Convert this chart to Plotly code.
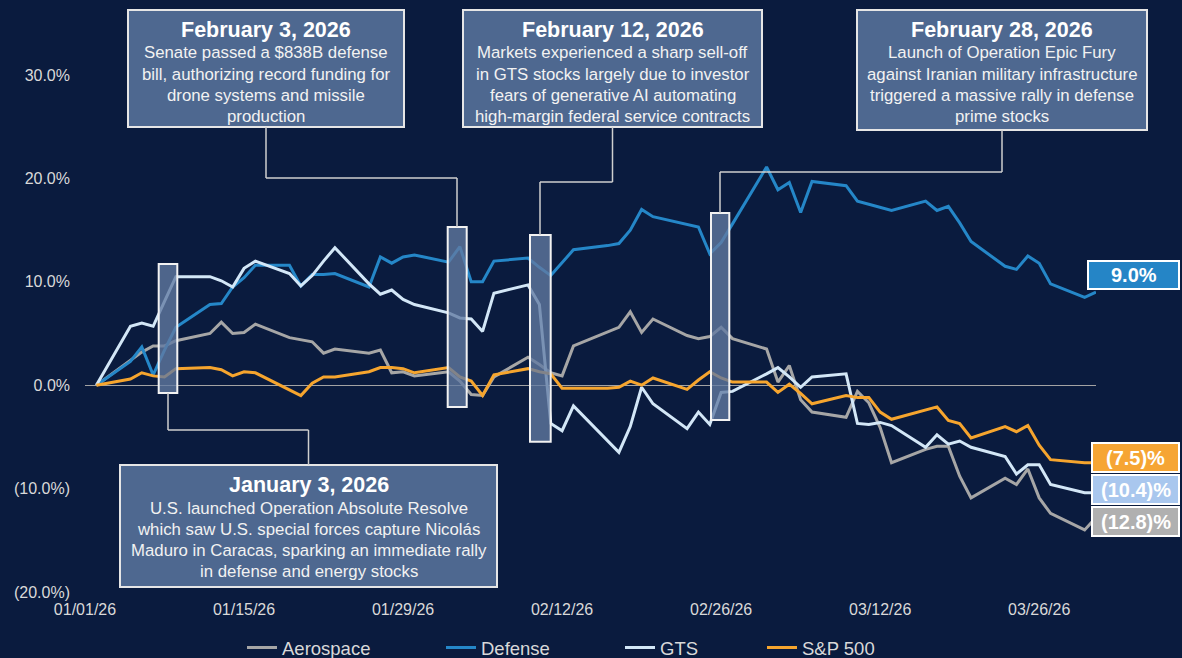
import plotly.graph_objects as go

# ---------------- data ----------------
dates = [
    "2026-01-02", "2026-01-05", "2026-01-06", "2026-01-07", "2026-01-08", "2026-01-09",
    "2026-01-12", "2026-01-13", "2026-01-14", "2026-01-15", "2026-01-16",
    "2026-01-19", "2026-01-20", "2026-01-21", "2026-01-22", "2026-01-23",
    "2026-01-26", "2026-01-27", "2026-01-28", "2026-01-29", "2026-01-30",
    "2026-02-02", "2026-02-03", "2026-02-04", "2026-02-05", "2026-02-06",
    "2026-02-09", "2026-02-10", "2026-02-11", "2026-02-12", "2026-02-13",
    "2026-02-16", "2026-02-17", "2026-02-18", "2026-02-19", "2026-02-20",
    "2026-02-23", "2026-02-24", "2026-02-25", "2026-02-26", "2026-02-27",
    "2026-03-02", "2026-03-03", "2026-03-04", "2026-03-05", "2026-03-06",
    "2026-03-09", "2026-03-10", "2026-03-11", "2026-03-12", "2026-03-13",
    "2026-03-16", "2026-03-17", "2026-03-18", "2026-03-19", "2026-03-20",
    "2026-03-23", "2026-03-24", "2026-03-25", "2026-03-26", "2026-03-27",
    "2026-03-30", "2026-03-31",
]

aerospace = [
    0.0, 2.4, 3.2, 3.8, 3.8, 4.3,
    5.0, 6.1, 5.0, 5.1, 5.9,
    4.6, 4.4, 4.2, 3.1, 3.5,
    3.1, 3.4, 1.2, 1.3, 0.9,
    1.3, 0.4, -0.9, -1.0, 0.8,
    2.7, 2.0, 1.2, 0.9, 3.8,
    5.2, 5.6, 7.1, 5.1, 6.4,
    4.8, 4.5, 4.7, 5.6, 4.5,
    3.5, 0.3, 1.9, -1.4, -2.6,
    -3.1, -0.6, -1.7, -4.1, -7.5,
    -6.2, -5.9, -5.9, -8.8, -10.9,
    -9.0, -9.6, -8.1, -10.9, -12.4,
    -14.0, -12.8,
]

defense = [
    0.0, 2.3, 3.7, 1.0, 3.4, 5.6,
    7.8, 7.9, 9.5, 10.4, 11.6,
    11.6, 9.6, 10.7, 10.7, 10.8,
    9.5, 12.4, 11.8, 12.4, 12.6,
    11.9, 13.4, 10.0, 10.0, 12.0,
    12.3, 11.4, 10.6, 11.9, 13.1,
    13.5, 13.7, 15.0, 17.0, 16.3,
    15.6, 15.3, 12.7, 13.8, 15.6,
    21.1, 18.9, 19.6, 16.7, 19.7,
    19.3, 17.8, 17.5, 17.2, 16.9,
    17.8, 16.9, 17.3, 15.7, 13.9,
    11.5, 11.2, 12.5, 11.8, 9.8,
    8.5, 9.0,
]

gts = [
    0.0, 5.7, 6.0, 5.7, 8.1, 10.5,
    10.5, 10.1, 9.5, 11.3, 12.0,
    10.8, 9.6, 10.6, 12.0, 13.3,
    9.8, 8.8, 9.2, 8.3, 7.8,
    7.0, 6.5, 6.4, 5.2, 8.9,
    9.7, 7.8, -3.7, -4.4, -2.0,
    -5.4, -6.5, -4.0, -0.2, -1.8,
    -4.2, -2.6, -3.8, -0.7, -0.6,
    1.1, 1.7, 0.8, -0.2, 0.8,
    1.1, -3.7, -3.8, -3.6, -3.9,
    -6.0, -4.8, -5.7, -5.4, -6.0,
    -6.9, -8.6, -7.7, -7.7, -9.6,
    -10.4, -10.4,
]

sp500 = [
    0.0, 0.6, 1.2, 0.9, 0.8, 1.6,
    1.7, 1.5, 0.9, 1.3, 1.2,
    -0.5, -1.0, 0.2, 0.8, 0.8,
    1.3, 1.7, 1.7, 1.6, 1.2,
    1.7, 0.8, 0.4, -1.0, 1.0,
    1.6, 1.3, 1.1, -0.3, -0.3,
    -0.3, -0.2, 0.4, 0.0, 0.7,
    -0.4, 0.5, 1.3, 0.7, 0.3,
    0.3, -0.7, 0.1, -0.8, -1.8,
    -1.0, -1.2, -1.2, -2.6, -3.3,
    -2.4, -2.1, -3.4, -3.7, -5.1,
    -4.0, -4.5, -3.9, -5.8, -7.2,
    -7.5, -7.5,
]

series_names = ["Aerospace", "Defense", "GTS", "S&P 500"]
series_colors = ["#A6A6A6", "#2587C8", "#D3E7F7", "#F6A52E"]

end_label_texts = ["9.0%", "(7.5)%", "(10.4)%", "(12.8)%"]
end_label_colors = ["#2585C6", "#F6A534", "#A9C7EE", "#B0B0B0"]

ytick_vals = [-20, -10, 0, 10, 20, 30]
ytick_text = ["(20.0%)", "(10.0%)", "0.0%", "10.0%", "20.0%", "30.0%"]
xtick_vals = ["2026-01-01", "2026-01-15", "2026-01-29", "2026-02-12",
              "2026-02-26", "2026-03-12", "2026-03-26"]
xtick_text = ["01/01/26", "01/15/26", "01/29/26", "02/12/26",
              "02/26/26", "03/12/26", "03/26/26"]

event_titles = ["January 3, 2026", "February 3, 2026", "February 12, 2026", "February 28, 2026"]
event_lines = [
    ["U.S. launched Operation Absolute Resolve",
     "which saw U.S. special forces capture Nicolás",
     "Maduro in Caracas, sparking an immediate rally",
     "in defense and energy stocks"],
    ["Senate passed a $838B defense",
     "bill, authorizing record funding for",
     "drone systems and missile",
     "production"],
    ["Markets experienced a sharp sell-off",
     "in GTS stocks largely due to investor",
     "fears of generative AI automating",
     "high-margin federal service contracts"],
    ["Launch of Operation Epic Fury",
     "against Iranian military infrastructure",
     "triggered a massive rally in defense",
     "prime stocks"],
]

# ---------------- layout geometry (pixels) ----------------
FW, FH = 1182, 658
L, R, T, B = 85, 1096, 75, 592
W, H = R - L, B - T


def px(x):
    return (x - L) / W


def py(y):
    return (B - y) / H


BG = "#0A1B3E"
TXT = "#D9D9D9"
FONT = "Liberation Sans"

fig = go.Figure()
all_series = [aerospace, defense, gts, sp500]
legend_ids = ["legend", "legend2", "legend3", "legend4"]
for name, vals, col, lg in zip(series_names, all_series, series_colors, legend_ids):
    fig.add_trace(go.Scatter(
        x=dates, y=vals, name=name, mode="lines",
        line=dict(color=col, width=3), legend=lg,
        hovertemplate="%{x|%m/%d/%y}: %{y:.1f}%<extra>" + name + "</extra>",
    ))

shapes = []
annotations = []

boxes = [
    (120, 465, 497, 587),
    (128, 10, 404, 127),
    (463, 10, 762, 127),
    (857, 10, 1147, 130),
]
BOX_FILL = "#4E6890"
for (x0, y0, x1, y1), title, lines in zip(boxes, event_titles, event_lines):
    shapes.append(dict(type="rect", xref="paper", yref="paper",
                       x0=px(x0), x1=px(x1), y0=py(y1), y1=py(y0),
                       fillcolor=BOX_FILL, line=dict(color="#E6E6E6", width=2),
                       layer="above"))
    cx = (x0 + x1) / 2
    annotations.append(dict(xref="paper", yref="paper", x=px(cx), y=py(y0 + 20),
                            text="<b>" + title + "</b>", showarrow=False,
                            xanchor="center", yanchor="middle",
                            font=dict(family=FONT, size=21.5, color="#FFFFFF")))
    for i, ln in enumerate(lines):
        annotations.append(dict(xref="paper", yref="paper", x=px(cx), y=py(y0 + 43 + 21.3 * i),
                                text=ln, showarrow=False,
                                xanchor="center", yanchor="middle",
                                font=dict(family=FONT, size=16.8, color="#F2F2F2")))

markers = [
    (158.7, 264, 177.3, 393),
    (447.7, 227, 466.7, 407),
    (530.0, 235, 550.7, 441.7),
    (711.0, 213, 729.3, 420),
]
for (x0, y0, x1, y1) in markers:
    shapes.append(dict(type="rect", xref="paper", yref="paper",
                       x0=px(x0), x1=px(x1), y0=py(y1), y1=py(y0),
                       fillcolor="rgba(98,122,162,0.78)",
                       line=dict(color="#F2F2F2", width=2), layer="above"))

connectors = [
    [(168, 393), (168, 430), (308.5, 430), (308.5, 465)],
    [(266, 127), (266, 178), (457, 178), (457, 227)],
    [(612.5, 127), (612.5, 182), (540, 182), (540, 235)],
    [(1002, 130), (1002, 172), (720, 172), (720, 213)],
]
for pts in connectors:
    for (ax, ay), (bx, by) in zip(pts[:-1], pts[1:]):
        shapes.append(dict(type="line", xref="paper", yref="paper",
                           x0=px(ax), y0=py(ay), x1=px(bx), y1=py(by),
                           line=dict(color="#CFCFCF", width=1.5), layer="above"))

end_boxes = [
    (1088, 261, 1179, 289),
    (1092, 443, 1179, 472),
    (1092, 475, 1179, 504),
    (1092, 507, 1179, 536),
]
for (x0, y0, x1, y1), txt, col in zip(end_boxes, end_label_texts, end_label_colors):
    shapes.append(dict(type="rect", xref="paper", yref="paper",
                       x0=px(x0), x1=px(x1), y0=py(y1), y1=py(y0),
                       fillcolor=col, line=dict(color="#FFFFFF", width=2), layer="above"))
    annotations.append(dict(xref="paper", yref="paper", x=px((x0 + x1) / 2), y=py((y0 + y1) / 2),
                            text="<b>" + txt + "</b>", showarrow=False,
                            xanchor="center", yanchor="middle",
                            font=dict(family=FONT, size=20, color="#FFFFFF")))

legend_x_px = [242, 441, 620, 762]
legend_layouts = {}
for lg, lx in zip(legend_ids, legend_x_px):
    legend_layouts[lg] = dict(
        x=px(lx), xanchor="left", y=py(648), yanchor="middle",
        orientation="h", bgcolor="rgba(0,0,0,0)", borderwidth=0,
        font=dict(family=FONT, size=18.5, color=TXT), itemwidth=30,
    )

fig.update_layout(
    width=FW, height=FH,
    margin=dict(l=L, r=FW - R, t=T, b=FH - B, pad=0, autoexpand=False),
    paper_bgcolor=BG, plot_bgcolor=BG,
    font=dict(family=FONT, color=TXT, size=16),
    showlegend=True,
    shapes=shapes, annotations=annotations,
    xaxis=dict(type="date", range=["2026-01-01", "2026-03-31"],
               tickvals=xtick_vals, ticktext=xtick_text,
               showgrid=False, zeroline=False, showline=False, ticks="",
               ticklabelstandoff=6,
               tickfont=dict(family=FONT, size=16, color=TXT)),
    yaxis=dict(range=[-20, 30], tickvals=ytick_vals, ticktext=ytick_text,
               showgrid=False, zeroline=True, zerolinecolor="#A3A3A3", zerolinewidth=1.2,
               showline=False, ticks="", ticklabelstandoff=14,
               tickfont=dict(family=FONT, size=16, color=TXT)),
    hovermode="closest",
    **legend_layouts,
)

fig.write_html("out.html", config={"displayModeBar": False},
               post_script="document.body.style.margin='0px';")
